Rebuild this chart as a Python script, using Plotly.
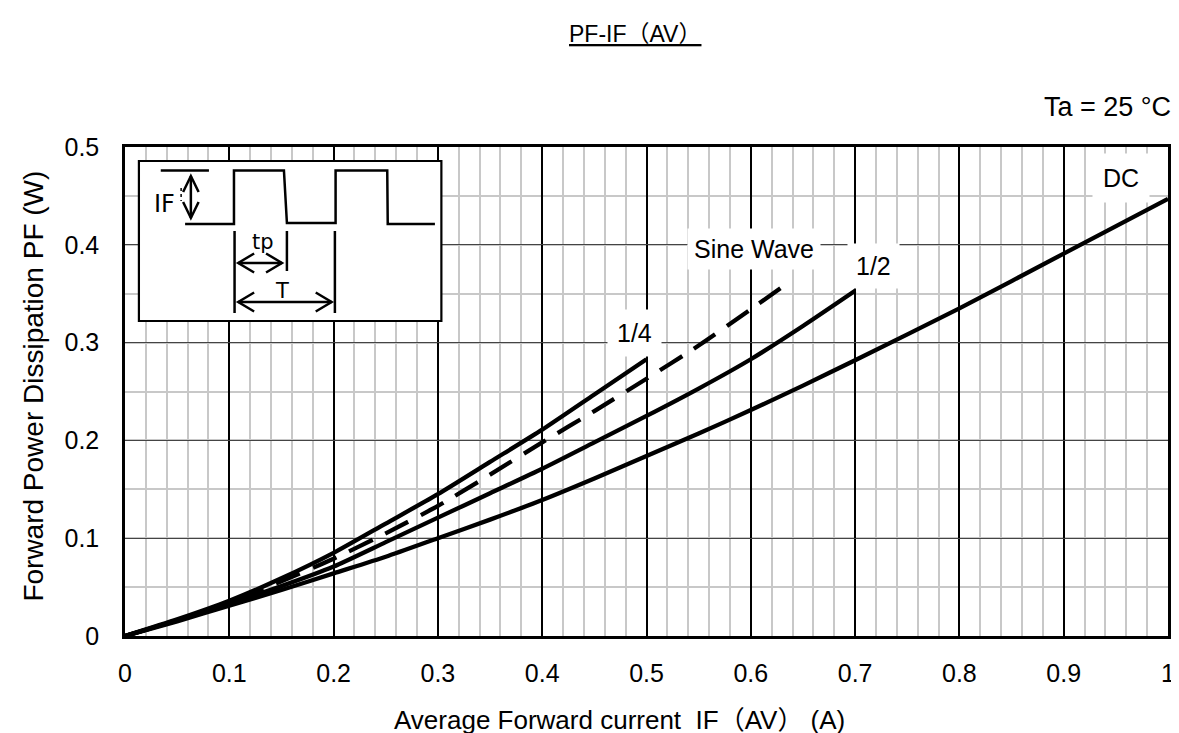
import plotly.graph_objects as go

# ---------------- data ----------------
x_dc = [0, 0.05, 0.1, 0.15, 0.2, 0.25, 0.3, 0.35, 0.4, 0.45, 0.5, 0.55, 0.6, 0.65, 0.7, 0.8, 0.9, 1.0]
pf_dc = [0, 0.015, 0.031, 0.047, 0.064, 0.081, 0.100, 0.119, 0.139, 0.161, 0.184, 0.207, 0.231, 0.256, 0.282, 0.335, 0.391, 0.447]

x_half = [0, 0.05, 0.1, 0.15, 0.2, 0.25, 0.3, 0.35, 0.4, 0.45, 0.5, 0.55, 0.6, 0.65, 0.7]
pf_half = [0, 0.016, 0.033, 0.051, 0.071, 0.096, 0.121, 0.146, 0.171, 0.198, 0.225, 0.253, 0.283, 0.317, 0.353]

x_quarter = [0, 0.05, 0.1, 0.15, 0.2, 0.25, 0.3, 0.35, 0.4, 0.45, 0.5]
pf_quarter = [0, 0.017, 0.036, 0.059, 0.085, 0.115, 0.145, 0.178, 0.211, 0.247, 0.283]

x_sine = [0, 0.05, 0.1, 0.15, 0.2, 0.25, 0.3, 0.35, 0.4, 0.45, 0.5, 0.55, 0.6, 0.638]
pf_sine = [0, 0.016, 0.035, 0.056, 0.079, 0.105, 0.133, 0.165, 0.198, 0.230, 0.263, 0.297, 0.334, 0.363]

x_ticks = [0, 0.1, 0.2, 0.3, 0.4, 0.5, 0.6, 0.7, 0.8, 0.9, 1.0]
x_tick_labels = ["0", "0.1", "0.2", "0.3", "0.4", "0.5", "0.6", "0.7", "0.8", "0.9", "1"]
y_ticks = [0, 0.1, 0.2, 0.3, 0.4, 0.5]
y_tick_labels = ["0", "0.1", "0.2", "0.3", "0.4", "0.5"]

# ---------------- layout geometry ----------------
W, H = 1179, 733
L, R, T, B = 117, 1167, 139, 628   # plot area in pixels
X0, X1, Y0, Y1 = 0.0, 1.0, 0.0, 0.5

def dx(px):
    return X0 + (px - L) / (R - L) * (X1 - X0)

def dy(py):
    return Y0 + (B - py) / (B - T) * (Y1 - Y0)

def ppx(px):
    return (px - L) / (R - L)

def ppy(py):
    return (B - py) / (B - T)

FONT = "Arial, 'Liberation Sans', 'Noto Sans CJK JP', sans-serif"
INSET_FONT = "'DejaVu Sans', Verdana, sans-serif"

fig = go.Figure()
line_w = 4.3
for xs, ys, dash in [(x_dc, pf_dc, "solid"), (x_half, pf_half, "solid"),
                     (x_quarter, pf_quarter, "solid"), (x_sine, pf_sine, "26px,14px")]:
    fig.add_trace(go.Scatter(x=xs, y=ys, mode="lines", hoverinfo="skip",
                             line=dict(color="black", width=line_w, dash=dash,
                                       shape="spline", smoothing=0.6)))

shapes = []
lw = 2.5

def seg(points, width=lw):
    path = "M " + " L ".join(f"{dx(px)},{dy(py)}" for px, py in points)
    shapes.append(dict(type="path", path=path, xref="x", yref="y",
                       line=dict(color="black", width=width), layer="above"))

# inset box
shapes.append(dict(type="rect", xref="x", yref="y",
                   x0=dx(131), x1=dx(435.5), y0=dy(313), y1=dy(153),
                   fillcolor="white", line=dict(color="black", width=2.2), layer="above"))
# square wave
seg([(153, 162.5), (201.5, 162.5)])
seg([(177.5, 216), (226.7, 216), (226.7, 162.5), (277, 162.5), (280, 215), (329, 215),
     (329, 162.5), (381, 162.5), (381.5, 216), (429, 216)])
# IF arrow
seg([(183.3, 168), (183.3, 210)])
seg([(175.5, 184), (183.3, 168), (191.1, 184)])
seg([(175.5, 194), (183.3, 210), (191.1, 194)])
# vertical markers
seg([(227.3, 223), (227.3, 305)])
seg([(280, 223), (280, 263)])
seg([(328.3, 223), (328.3, 305)])
# tp arrow
seg([(231, 255), (275, 255)])
seg([(247, 245.5), (231, 255), (247, 264.5)])
seg([(259, 245.5), (275, 255), (259, 264.5)])
# T arrow
seg([(231, 294), (325, 294)])
seg([(247, 284.5), (231, 294), (247, 303.5)])
seg([(309, 284.5), (325, 294), (309, 303.5)])
# small dotted mark next to IF
shapes.append(dict(type="line", xref="x", yref="y", x0=dx(173.5), x1=dx(173.5), y0=dy(180), y1=dy(193),
                   line=dict(color="black", width=1.5, dash="dot"), layer="above"))

annotations = []

def label(text, px, py, size=25, bg="white", pad=6, font=FONT):
    annotations.append(dict(text=text, x=dx(px), y=dy(py), xref="x", yref="y",
                            showarrow=False, font=dict(family=font, size=size, color="black"),
                            bgcolor=bg, borderpad=pad, xanchor="center", yanchor="middle"))

label("1/4", 630, 325, pad=9)
label("Sine Wave", 750, 241, pad=6)
label("1/2", 871, 258, pad=8)
label("DC", 1120, 170, pad=10)

# inset texts
label("IF", 157, 196, size=24, bg=None, pad=0, font=INSET_FONT)
label("tp", 255.5, 234, size=21, bg=None, pad=0, font=INSET_FONT)
label("T", 275, 283, size=21, bg=None, pad=0, font=INSET_FONT)

def outside(text, px, py, size, xanchor="center", angle=0):
    annotations.append(dict(text=text, x=ppx(px), y=ppy(py), xref="paper", yref="paper",
                            showarrow=False, xanchor=xanchor, yanchor="middle", textangle=angle,
                            font=dict(family=FONT, size=size, color="black")))

outside("Ta = 25 °C", 1172, 99, 27, xanchor="right")
outside("<u>PF-IF（AV）</u>", 630, 26, 23)
outside("Average Forward current  IF（AV） (A)", 386, 712, 26, xanchor="left")
outside("Forward Power Dissipation PF (W)", 24, 378, 28, angle=-90)

fig.update_layout(
    width=W, height=H,
    margin=dict(l=L, r=W - R, t=T, b=H - B, pad=0),
    paper_bgcolor="white", plot_bgcolor="white",
    showlegend=False,
    shapes=shapes, annotations=annotations,
    font=dict(family=FONT, color="black"),
)
fig.update_xaxes(range=[X0, X1], tickvals=x_ticks, ticktext=x_tick_labels,
                 showgrid=True, gridcolor="black", gridwidth=2.2,
                 minor=dict(dtick=0.02, showgrid=True, gridcolor="#c8c8c8", gridwidth=1.5),
                 showline=True, linecolor="black", linewidth=2.5, mirror=True,
                 zeroline=False, ticks="", ticklabelstandoff=13,
                 tickfont=dict(family=FONT, size=25, color="black"), fixedrange=True)
fig.update_yaxes(range=[Y0, Y1], tickvals=y_ticks, ticktext=y_tick_labels,
                 showgrid=True, gridcolor="#444444", gridwidth=1.3,
                 minor=dict(dtick=0.05, showgrid=True, gridcolor="#c8c8c8", gridwidth=1.5),
                 showline=True, linecolor="black", linewidth=2.5, mirror=True,
                 zeroline=False, ticks="", ticklabelstandoff=18,
                 tickfont=dict(family=FONT, size=25, color="black"), fixedrange=True)

fig.write_html("out.html")
